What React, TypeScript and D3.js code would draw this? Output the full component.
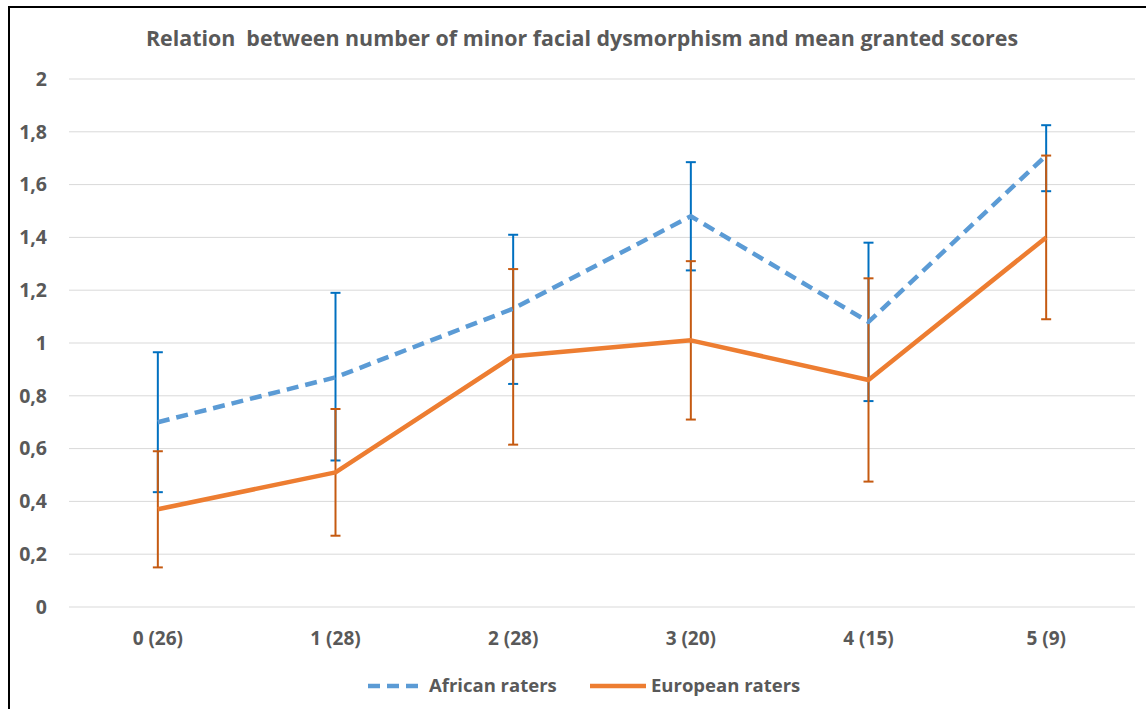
import React, { useEffect, useRef } from "react";
import * as d3 from "d3";

const categories = ["0 (26)", "1 (28)", "2 (28)", "3 (20)", "4 (15)", "5 (9)"];
const africanMean = [0.7, 0.87, 1.13, 1.48, 1.08, 1.71];
const africanLow = [0.435, 0.555, 0.845, 1.275, 0.78, 1.575];
const africanHigh = [0.965, 1.19, 1.41, 1.685, 1.38, 1.825];
const europeanMean = [0.37, 0.51, 0.95, 1.01, 0.86, 1.4];
const europeanLow = [0.15, 0.27, 0.615, 0.71, 0.475, 1.09];
const europeanHigh = [0.59, 0.75, 1.28, 1.31, 1.245, 1.71];
const yTicks = [0, 0.2, 0.4, 0.6, 0.8, 1, 1.2, 1.4, 1.6, 1.8, 2];

const W = 1146;
const H = 709;
const FONT = "'Open Sans', sans-serif";
const GREY = "#595959";

export default function App() {
  const ref = useRef<SVGSVGElement>(null);

  useEffect(() => {
    const svg = d3.select(ref.current);
    svg.selectAll("*").remove();

    svg.append("rect").attr("width", W).attr("height", H).attr("fill", "#fff");
    // outer frame, runs past the picture on right/bottom
    svg
      .append("rect")
      .attr("x", 9)
      .attr("y", 7)
      .attr("width", 1300)
      .attr("height", 900)
      .attr("fill", "none")
      .attr("stroke", "#000")
      .attr("stroke-width", 2);

    const x = d3.scalePoint().domain(categories).range([69, 1135]).padding(0.5);
    const y = d3.scaleLinear().domain([0, 2]).range([607, 79]);

    // title
    svg
      .append("text")
      .attr("x", 582)
      .attr("y", 46)
      .attr("text-anchor", "middle")
      .style("font-family", FONT)
      .style("font-size", "21.4px")
      .style("font-weight", "bold")
      .attr("fill", GREY)
      .attr("xml:space", "preserve")
      .text("Relation  between number of minor facial dysmorphism and mean granted scores");

    // gridlines
    svg
      .append("g")
      .selectAll("line")
      .data(yTicks)
      .enter()
      .append("line")
      .attr("x1", 69)
      .attr("x2", 1135)
      .attr("y1", (d) => y(d))
      .attr("y2", (d) => y(d))
      .attr("stroke", "#d9d9d9")
      .attr("stroke-width", 1);

    // y labels
    svg
      .append("g")
      .selectAll("text")
      .data(yTicks)
      .enter()
      .append("text")
      .attr("x", 47)
      .attr("y", (d) => y(d))
      .attr("dy", "0.35em")
      .attr("text-anchor", "end")
      .style("font-family", FONT)
      .style("font-size", "19.5px")
      .style("font-weight", "bold")
      .attr("fill", GREY)
      .text((d) => String(d).replace(".", ","));

    // x labels
    svg
      .append("g")
      .selectAll("text")
      .data(categories)
      .enter()
      .append("text")
      .attr("x", (d) => x(d)!)
      .attr("y", 638)
      .attr("dy", "0.35em")
      .attr("text-anchor", "middle")
      .style("font-family", FONT)
      .style("font-size", "19px")
      .style("font-weight", "bold")
      .attr("fill", GREY)
      .text((d) => d);

    const errorBars = (low: number[], high: number[], color: string) => {
      const g = svg.append("g").attr("stroke", color).attr("stroke-width", 2);
      categories.forEach((c, i) => {
        const cx = x(c)!;
        g.append("line").attr("x1", cx).attr("x2", cx).attr("y1", y(low[i])).attr("y2", y(high[i]));
        [low[i], high[i]].forEach((v) => {
          g.append("line")
            .attr("x1", cx - 5)
            .attr("x2", cx + 5)
            .attr("y1", y(v))
            .attr("y2", y(v));
        });
      });
    };
    errorBars(africanLow, africanHigh, "#0070C0");
    errorBars(europeanLow, europeanHigh, "#C55A11");

    const line = d3
      .line<number>()
      .x((_, i) => x(categories[i])!)
      .y((d) => y(d));

    svg
      .append("path")
      .datum(africanMean)
      .attr("d", line)
      .attr("fill", "none")
      .attr("stroke", "#5B9BD5")
      .attr("stroke-width", 4.5)
      .attr("stroke-dasharray", "12,7")
      .attr("stroke-linejoin", "round");

    svg
      .append("path")
      .datum(europeanMean)
      .attr("d", line)
      .attr("fill", "none")
      .attr("stroke", "#ED7D31")
      .attr("stroke-width", 4.5)
      .attr("stroke-linejoin", "round");

    // legend
    const leg = svg.append("g");
    leg
      .append("line")
      .attr("x1", 368)
      .attr("x2", 420)
      .attr("y1", 686)
      .attr("y2", 686)
      .attr("stroke", "#5B9BD5")
      .attr("stroke-width", 4.5)
      .attr("stroke-dasharray", "12,7");
    leg
      .append("text")
      .attr("x", 429)
      .attr("y", 686)
      .attr("dy", "0.35em")
      .style("font-family", FONT)
      .style("font-size", "18.5px")
      .style("font-weight", "bold")
      .attr("fill", GREY)
      .text("African raters");
    leg
      .append("line")
      .attr("x1", 590)
      .attr("x2", 646)
      .attr("y1", 686)
      .attr("y2", 686)
      .attr("stroke", "#ED7D31")
      .attr("stroke-width", 4.5);
    leg
      .append("text")
      .attr("x", 651)
      .attr("y", 686)
      .attr("dy", "0.35em")
      .style("font-family", FONT)
      .style("font-size", "18.5px")
      .style("font-weight", "bold")
      .attr("fill", GREY)
      .text("European raters");
  }, []);

  return (
    <svg
      ref={ref}
      width={W}
      height={H}
      style={{ position: "absolute", left: 0, top: 0, display: "block" }}
    />
  );
}
